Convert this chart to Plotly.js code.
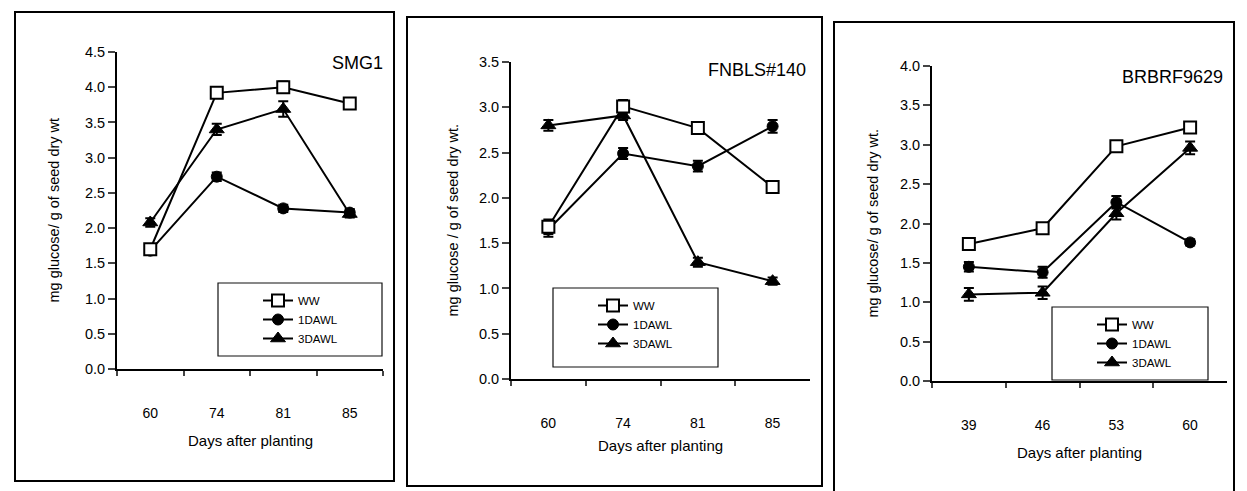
<!DOCTYPE html>
<html>
<head>
<meta charset="utf-8">
<script src="https://cdn.plot.ly/plotly-3.0.1.min.js"></script>
<style>html,body{margin:0;padding:0;background:#fff;}#chart{width:1247px;height:491px;}</style>
</head>
<body>
<div id="chart"></div>
<script>
// ---------- DATA ----------
const seriesNames = ['WW', '1DAWL', '3DAWL'];

const p1Title = 'SMG1';
const p1Days = ['60', '74', '81', '85'];
const p1WW = [1.70, 3.92, 4.00, 3.77];
const p1WWerr = [0.05, 0.06, 0.08, 0.06];
const p1D1 = [1.68, 2.73, 2.28, 2.22];
const p1D1err = [0.06, 0.06, 0.05, 0.05];
const p1D3 = [2.08, 3.40, 3.69, 2.20];
const p1D3err = [0.06, 0.08, 0.11, 0.05];

const p2Title = 'FNBLS#140';
const p2Days = ['60', '74', '81', '85'];
const p2WW = [1.68, 3.01, 2.77, 2.12];
const p2WWerr = [0.08, 0.07, 0.05, 0.05];
const p2D1 = [1.65, 2.49, 2.35, 2.79];
const p2D1err = [0.08, 0.06, 0.06, 0.07];
const p2D3 = [2.80, 2.91, 1.29, 1.08];
const p2D3err = [0.06, 0.05, 0.05, 0.04];

const p3Title = 'BRBRF9629';
const p3Days = ['39', '46', '53', '60'];
const p3WW = [1.74, 1.94, 2.98, 3.22];
const p3WWerr = [0.05, 0.05, 0.06, 0.07];
const p3D1 = [1.45, 1.38, 2.27, 1.76];
const p3D1err = [0.06, 0.07, 0.08, 0.04];
const p3D3 = [1.10, 1.12, 2.13, 2.96];
const p3D3err = [0.08, 0.08, 0.08, 0.08];

const yTitles = ['mg glucose/ g of seed dry wt', 'mg glucose / g of seed dry wt.', 'mg glucose/ g of seed dry wt.'];
const xTitle = 'Days after planting';

// ---------- LAYOUT HELPERS ----------
const W = 1247, H = 491;
const px = p => p / W;
const py = p => 1 - p / H;
const FONT = 'Liberation Sans, Arial, sans-serif';

const markerStyles = [
  {symbol: 'square', size: 12, color: '#ffffff', line: {color: '#000', width: 2}},
  {symbol: 'circle', size: 11, color: '#000000', line: {color: '#000', width: 1}},
  {symbol: 'triangle-up', size: 13, color: '#000000', line: {color: '#000', width: 1}}
];

function makeTraces(days, vals, errs, xa, ya, legendId) {
  return vals.map((v, i) => ({
    type: 'scatter', mode: 'lines+markers',
    x: days, y: v, name: seriesNames[i],
    xaxis: xa, yaxis: ya, legend: legendId,
    line: {color: '#000', width: 2},
    marker: markerStyles[i],
    error_y: {type: 'data', array: errs[i], visible: true, color: '#000', thickness: 2, width: 5},
    cliponaxis: false
  }));
}

const traces = [].concat(
  makeTraces(p1Days, [p1WW, p1D1, p1D3], [p1WWerr, p1D1err, p1D3err], 'x', 'y', 'legend'),
  makeTraces(p2Days, [p2WW, p2D1, p2D3], [p2WWerr, p2D1err, p2D3err], 'x2', 'y2', 'legend2'),
  makeTraces(p3Days, [p3WW, p3D1, p3D3], [p3WWerr, p3D1err, p3D3err], 'x3', 'y3', 'legend3')
).reverse();

// panel geometry in pixels
const panels = [
  {x0: 117, x1: 383, y0: 52, y1: 369, ymax: 4.5, frame: [15, 394, 12, 481], leg: [218, 382, 283, 356],
   title: p1Title, titleX: 385, titleY: 63, yTitleX: 53, xTitleY: 440},
  {x0: 511, x1: 810, y0: 62, y1: 379, ymax: 3.5, frame: [407, 822, 17, 486], leg: [553, 718, 288, 367],
   title: p2Title, titleX: 808, titleY: 70, yTitleX: 453, xTitleY: 445},
  {x0: 932, x1: 1227, y0: 66, y1: 381, ymax: 4.0, frame: [834, 1234, 22, 500], leg: [1052, 1208, 307, 380],
   title: p3Title, titleX: 1225, titleY: 77, yTitleX: 873, xTitleY: 452}
];

const layout = {
  width: W, height: H,
  margin: {l: 0, r: 0, t: 0, b: 0},
  paper_bgcolor: '#fff', plot_bgcolor: 'rgba(0,0,0,0)',
  font: {family: FONT, color: '#000', size: 13},
  showlegend: true,
  shapes: [], annotations: []
};

panels.forEach((p, i) => {
  const s = i === 0 ? '' : String(i + 1);
  layout['xaxis' + s] = {
    domain: [px(p.x0), px(p.x1)], anchor: 'y' + s, type: 'category',
    range: [-0.5, 3.5], tickson: 'boundaries', ticks: 'outside', ticklen: 5, tickwidth: 2,
    showline: true, linewidth: 2, linecolor: '#000', showgrid: false, zeroline: false,
    ticklabelstandoff: 30, tickfont: {size: 14, family: FONT}
  };
  layout['yaxis' + s] = {
    domain: [py(p.y1), py(p.y0)], anchor: 'x' + s,
    range: [0, p.ymax], dtick: 0.5, tickformat: '.1f', ticks: 'outside', ticklen: 7, tickwidth: 2,
    showline: true, linewidth: 2, linecolor: '#000', showgrid: false, zeroline: false,
    tickfont: {size: 14.5, family: FONT}
  };
  const lg = i === 0 ? 'legend' : 'legend' + (i + 1);
  layout[lg] = {
    x: px(p.leg[0] + 40), y: py(p.leg[2] + 3), xanchor: 'left', yanchor: 'top',
    xref: 'paper', yref: 'paper',
    bgcolor: 'rgba(0,0,0,0)', borderwidth: 0, font: {size: 11.5, family: FONT},
    traceorder: 'reversed', itemwidth: 30, tracegroupgap: 0
  };
  // frame
  layout.shapes.push({type: 'rect', xref: 'paper', yref: 'paper',
    x0: px(p.frame[0]), x1: px(p.frame[1]), y0: py(p.frame[3]), y1: py(p.frame[2]),
    line: {color: '#000', width: 2}, layer: 'below'});
  // legend box
  layout.shapes.push({type: 'rect', xref: 'paper', yref: 'paper',
    x0: px(p.leg[0]), x1: px(p.leg[1]), y0: py(p.leg[3]), y1: py(p.leg[2]),
    line: {color: '#111', width: 1.2}, layer: 'below'});
  // panel title
  layout.annotations.push({xref: 'paper', yref: 'paper', x: px(p.titleX), y: py(p.titleY),
    xanchor: 'right', yanchor: 'middle', text: p.title, showarrow: false,
    font: {size: 18, family: FONT}});
  // y title
  layout.annotations.push({xref: 'paper', yref: 'paper', x: px(p.yTitleX), y: py((p.y0 + p.y1) / 2),
    xanchor: 'center', yanchor: 'middle', text: yTitles[i], textangle: -90, showarrow: false,
    font: {size: 14.5, family: FONT}});
  // x title
  layout.annotations.push({xref: 'paper', yref: 'paper', x: px((p.x0 + p.x1) / 2), y: py(p.xTitleY),
    xanchor: 'center', yanchor: 'middle', text: xTitle, showarrow: false,
    font: {size: 15, family: FONT}});
});

Plotly.newPlot('chart', traces, layout, {displayModeBar: false, staticPlot: true});
</script>
</body>
</html>
